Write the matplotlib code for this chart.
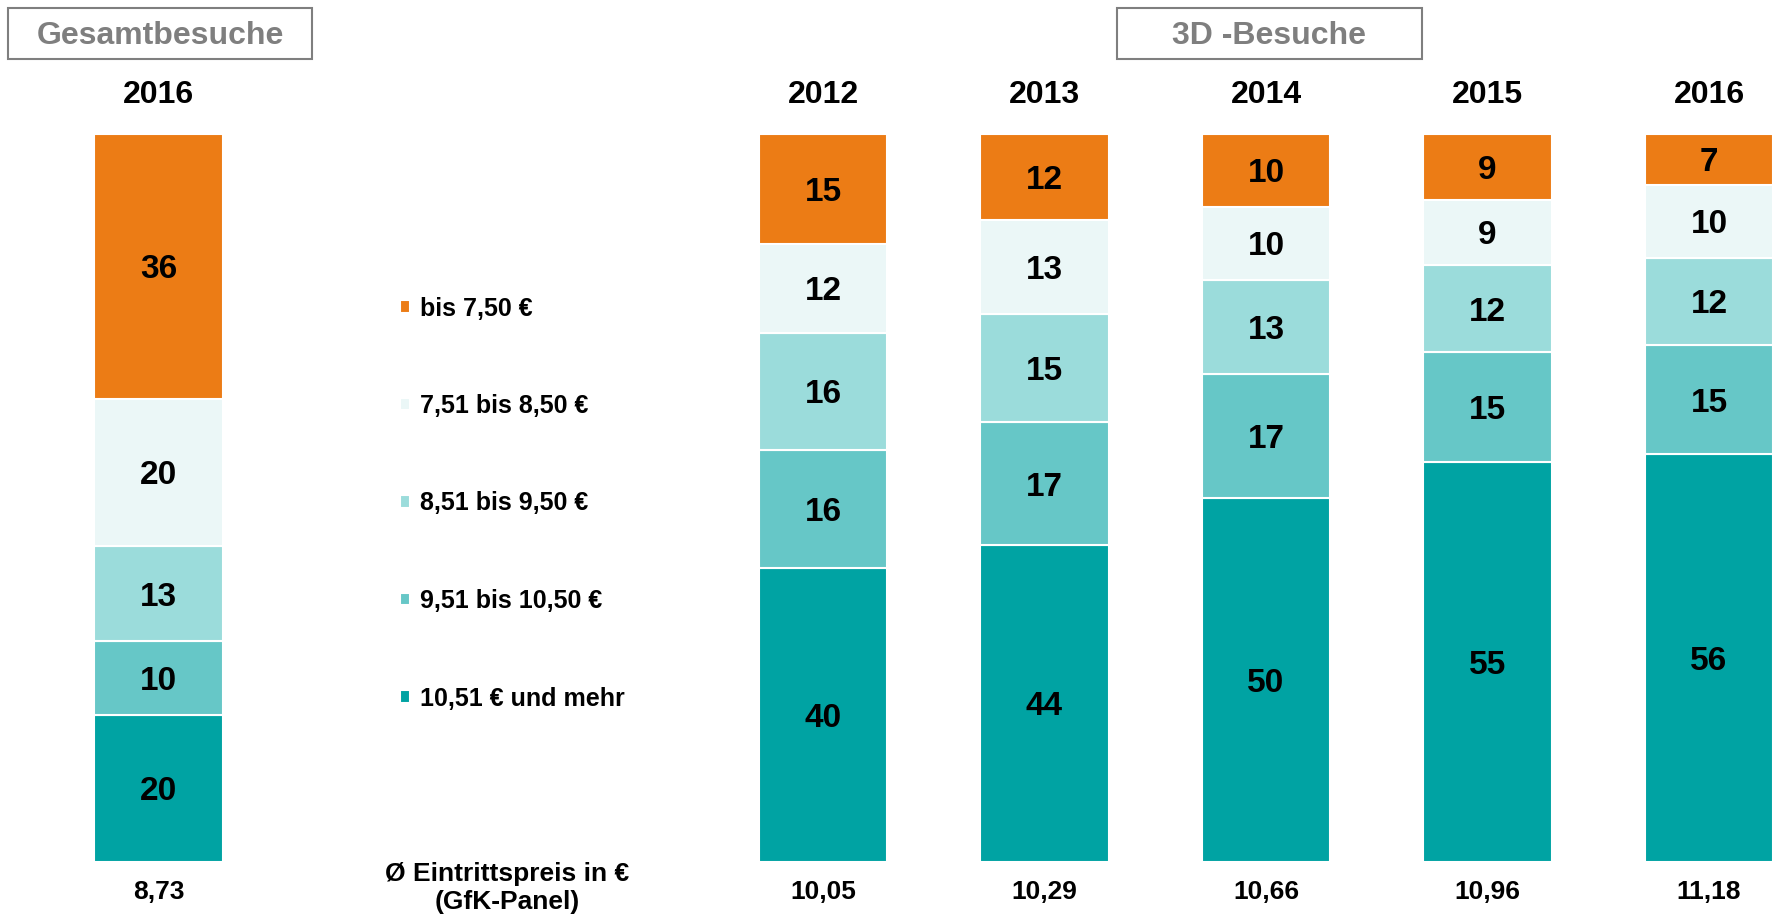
import matplotlib
matplotlib.use("Agg")
import matplotlib.pyplot as plt
from matplotlib.patches import Rectangle
import matplotlib.transforms as mtrans
import numpy as np

plt.rcParams['font.family'] = ['Liberation Sans', 'DejaVu Sans']
plt.rcParams['font.weight'] = 'bold'

# ---- data ----
years = ["2016", "2012", "2013", "2014", "2015", "2016"]
categories = ["bis 7,50 €", "7,51 bis 8,50 €", "8,51 bis 9,50 €",
              "9,51 bis 10,50 €", "10,51 € und mehr"]
bis_750 = [36, 15, 12, 10, 9, 7]
v751_850 = [20, 12, 13, 10, 9, 10]
v851_950 = [13, 16, 15, 13, 12, 12]
v951_1050 = [10, 16, 17, 17, 15, 15]
v1051_plus = [20, 40, 44, 50, 55, 56]
avg_price = ["8,73", "10,05", "10,29", "10,66", "10,96", "11,18"]
headers = ["Gesamtbesuche", "3D -Besuche"]
price_label = "Ø Eintrittspreis in €\n(GfK-Panel)"

colors = ["#EC7C15", "#EBF7F7", "#9BDCDB", "#66C7C7", "#00A3A3"]

W, H = 1778, 923
fig = plt.figure(figsize=(W / 100, H / 100), dpi=100)

positions = np.array([0, 3, 4, 5, 6, 7], dtype=float)
unit = 221.5
left_px = 158.5 - 0.5 * unit
xmin, xmax = -0.5, 7.3
ax = fig.add_axes([left_px / W, (H - 862) / H, (xmax - xmin) * unit / W, (862 - 134) / H])
ax.set_xlim(xmin, xmax)
ax.set_ylim(0, 100)
ax.axis('off')

# stack from bottom: dark first
stack = [v1051_plus, v951_1050, v851_950, v751_850, bis_750]
stack_colors = colors[::-1]
stack_labels = categories[::-1]
totals = np.sum(np.array(stack, dtype=float), axis=0)
bottom = np.zeros(len(positions))
handles = {}
for vals, col, lab in zip(stack, stack_colors, stack_labels):
    vals = np.array(vals, dtype=float)
    h = vals / totals * 100
    bars = ax.bar(positions, h, bottom=bottom, width=0.578, color=col,
                  edgecolor='white', linewidth=1.5, label=lab)
    handles[lab] = bars
    for x, b, hh, v in zip(positions, bottom, h, vals):
        ax.text(x, b + hh / 2, f"{int(v)}", ha='center', va='center_baseline',
                fontsize=24, fontweight='bold', color='black')
    bottom += h

# year labels and average prices
trans = mtrans.blended_transform_factory(ax.transData, fig.transFigure)
for x, yr, p in zip(positions, years, avg_price):
    ax.text(x, 1 - 95 / H, yr, ha='center', va='center', fontsize=23,
            fontweight='bold', transform=trans)
    ax.text(x, 1 - 892 / H, p, ha='center', va='center', fontsize=19,
            fontweight='bold', transform=trans)

fig.text(507 / W, 1 - 888 / H, price_label, ha='center', va='center',
         fontsize=19, fontweight='bold', linespacing=1.2)

# header boxes
for (x0, x1), txt in zip([(8, 312), (1117, 1422)], headers):
    rect = Rectangle((x0 / W, 1 - 59 / H), (x1 - x0) / W, 51 / H,
                     transform=fig.transFigure, fill=False,
                     edgecolor='#7F7F7F', linewidth=1.5)
    fig.add_artist(rect)
    fig.text((x0 + x1) / 2 / W, 1 - 36.5 / H, txt, ha='center', va='center',
             fontsize=23, fontweight='bold', color='#7F7F7F')

# legend (top to bottom: orange ... dark)
leg = fig.legend([handles[c] for c in categories], categories,
                 loc='center left', bbox_to_anchor=(400 / W, 1 - 503.5 / H),
                 frameon=False, handlelength=0.4, handleheight=0.4,
                 handletextpad=0.4, labelspacing=2.94, borderpad=0, borderaxespad=0,
                 prop={'weight': 'bold', 'size': 18})

fig.savefig("out.png", dpi=100)
